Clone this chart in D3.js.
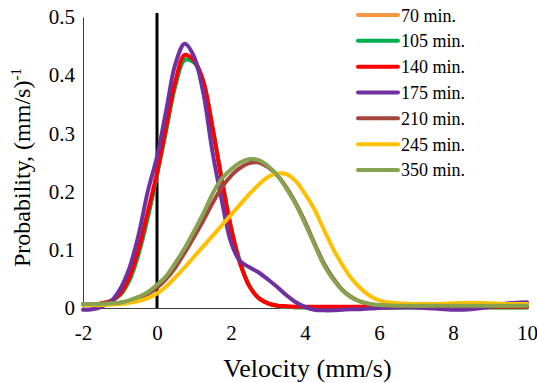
<!DOCTYPE html>
<html>
<head>
<meta charset="utf-8">
<script src="https://cdn.jsdelivr.net/npm/d3@7"></script>
<style>
  html, body { margin: 0; padding: 0; background: #fff; }
  svg { display: block; }
</style>
</head>
<body>
<svg id="chart" width="537" height="383"></svg>
<script>
// ---------- data ----------
const velocity = [-2,-1.75,-1.5,-1.25,-1,-0.75,-0.5,-0.25,0,0.25,0.5,0.75,1,1.25,1.5,1.75,2,2.25,2.5,2.75,3,3.25,3.5,3.75,4,4.25,4.5,4.75,5,5.25,5.5,5.75,6,6.5,7,7.5,8,8.5,9,9.5,10];

const seriesNames = ["70 min.","105 min.","140 min.","175 min.","210 min.","245 min.","350 min."];
const seriesColors = ["#F79646","#00B050","#FF0000","#7030A0","#A5443F","#FFC000","#86A34F"];

const p70  = [.006,.006,.008,.012,.022,.048,.095,.158,.230,.308,.386,.430,.424,.389,.310,.221,.138,.077,.038,.017,.008,.004,.002,.002,.001,.001,.001,.001,.001,.001,.001,.001,.001,.001,.001,.001,.001,.001,.001,.001,.001];
const p105 = [.006,.006,.008,.012,.022,.047,.092,.155,.228,.306,.383,.426,.422,.388,.310,.222,.139,.078,.038,.017,.008,.004,.002,.001,.001,.001,.001,.001,.001,.001,.001,.001,.001,.001,.001,.001,.001,.001,.001,.001,.001];
const p140 = [.006,.006,.008,.012,.024,.052,.100,.165,.232,.312,.390,.435,.425,.390,.310,.220,.137,.076,.037,.017,.008,.004,.003,.002,.002,.002,.002,.002,.002,.002,.002,.002,.002,.002,.002,.002,.002,.002,.002,.002,.002];
const p175 = [-.003,-.002,.002,.011,.032,.068,.125,.200,.260,.340,.420,.454,.432,.370,.268,.185,.113,.080,.070,.061,.049,.036,.022,.010,.002,-.003,-.004,-.004,-.003,-.002,-.002,-.001,.000,.001,.001,-.001,-.003,-.002,.002,.008,.010];
const p210 = [.007,.007,.007,.008,.009,.012,.017,.024,.035,.050,.070,.095,.122,.150,.180,.207,.227,.241,.249,.250,.242,.228,.207,.180,.148,.112,.078,.052,.032,.019,.011,.007,.005,.004,.004,.004,.004,.004,.004,.004,.004];
const p245 = [.005,.005,.005,.006,.007,.009,.012,.017,.025,.037,.053,.070,.088,.106,.124,.142,.160,.178,.196,.212,.225,.231,.230,.218,.196,.170,.136,.103,.075,.051,.034,.021,.013,.008,.007,.007,.008,.009,.008,.007,.007];
const p350 = [.007,.007,.007,.008,.009,.013,.019,.027,.040,.055,.078,.103,.132,.162,.196,.222,.238,.250,.256,.254,.244,.228,.205,.178,.145,.110,.075,.050,.031,.018,.011,.007,.005,.004,.004,.004,.004,.004,.004,.004,.004];

const seriesValues = [p70, p105, p140, p175, p210, p245, p350];

const xTicks = [-2,0,2,4,6,8,10];
const xTickLabels = ["-2","0","2","4","6","8","10"];
const yTicks = [0,0.1,0.2,0.3,0.4,0.5];
const yTickLabels = ["0","0.1","0.2","0.3","0.4","0.5"];

const xTitle = "Velocity (mm/s)";
const yTitle = "Probability, (mm/s)";
const yTitleSup = "-1";

// ---------- drawing ----------
const FONT = "Liberation Serif";
const svg = d3.select("#chart");
const x = d3.scaleLinear().domain([-2, 10]).range([83, 527]);
const y = d3.scaleLinear().domain([0, 0.5]).range([308, 17]);

// axes
const xAxis = d3.axisBottom(x).tickValues(xTicks).tickSize(0).tickSizeOuter(0).tickPadding(17)
  .tickFormat((d, i) => xTickLabels[i]);
const yAxis = d3.axisLeft(y).tickValues(yTicks).tickSize(0).tickSizeOuter(0).tickPadding(8)
  .tickFormat((d, i) => yTickLabels[i]);

const gx = svg.append("g").attr("transform", `translate(0,${y(0)})`).call(xAxis);
const gy = svg.append("g").attr("transform", `translate(${x(-2)},0)`).call(yAxis);
[gx, gy].forEach(g => {
  g.attr("font-family", FONT).attr("font-size", 21);
  g.select(".domain").attr("stroke", "#3a3a3a").attr("stroke-width", 1);
  g.selectAll("text").attr("font-family", FONT).attr("font-size", 21).attr("fill", "#000");
});

// vertical zero line
svg.append("line")
  .attr("x1", x(0)).attr("x2", x(0))
  .attr("y1", y(0.5) - 4).attr("y2", y(0))
  .attr("stroke", "#000").attr("stroke-width", 3);

// series lines
const line = d3.line()
  .x((d, i) => x(velocity[i]))
  .y(d => y(d))
  .curve(d3.curveCatmullRom.alpha(0.5));

seriesValues.forEach((vals, k) => {
  svg.append("path")
    .datum(vals)
    .attr("d", line)
    .attr("fill", "none")
    .attr("stroke", seriesColors[k])
    .attr("stroke-width", 4)
    .attr("stroke-linejoin", "round")
    .attr("stroke-linecap", "round");
});

// legend
const legend = svg.append("g");
seriesNames.forEach((name, k) => {
  const cy = 15 + k * 25.83;
  legend.append("line")
    .attr("x1", 358).attr("x2", 398).attr("y1", cy).attr("y2", cy)
    .attr("stroke", seriesColors[k]).attr("stroke-width", 4).attr("stroke-linecap", "round");
  legend.append("text")
    .attr("x", 401).attr("y", cy + 6.5)
    .attr("font-family", FONT)
    .attr("font-size", 18)
    .attr("fill", "#000")
    .text(name);
});

// axis titles
svg.append("text")
  .attr("x", 307.5).attr("y", 377)
  .attr("text-anchor", "middle")
  .attr("font-family", FONT)
  .attr("font-size", 26)
  .attr("fill", "#000")
  .text(xTitle);

const yt = svg.append("text")
  .attr("transform", "translate(30,267) rotate(-90)")
  .attr("text-anchor", "start")
  .attr("font-family", FONT)
  .attr("font-size", 24)
  .attr("fill", "#000");
yt.append("tspan").text(yTitle);
yt.append("tspan").attr("dy", -9).attr("font-size", 15).text(yTitleSup);
</script>
</body>
</html>
